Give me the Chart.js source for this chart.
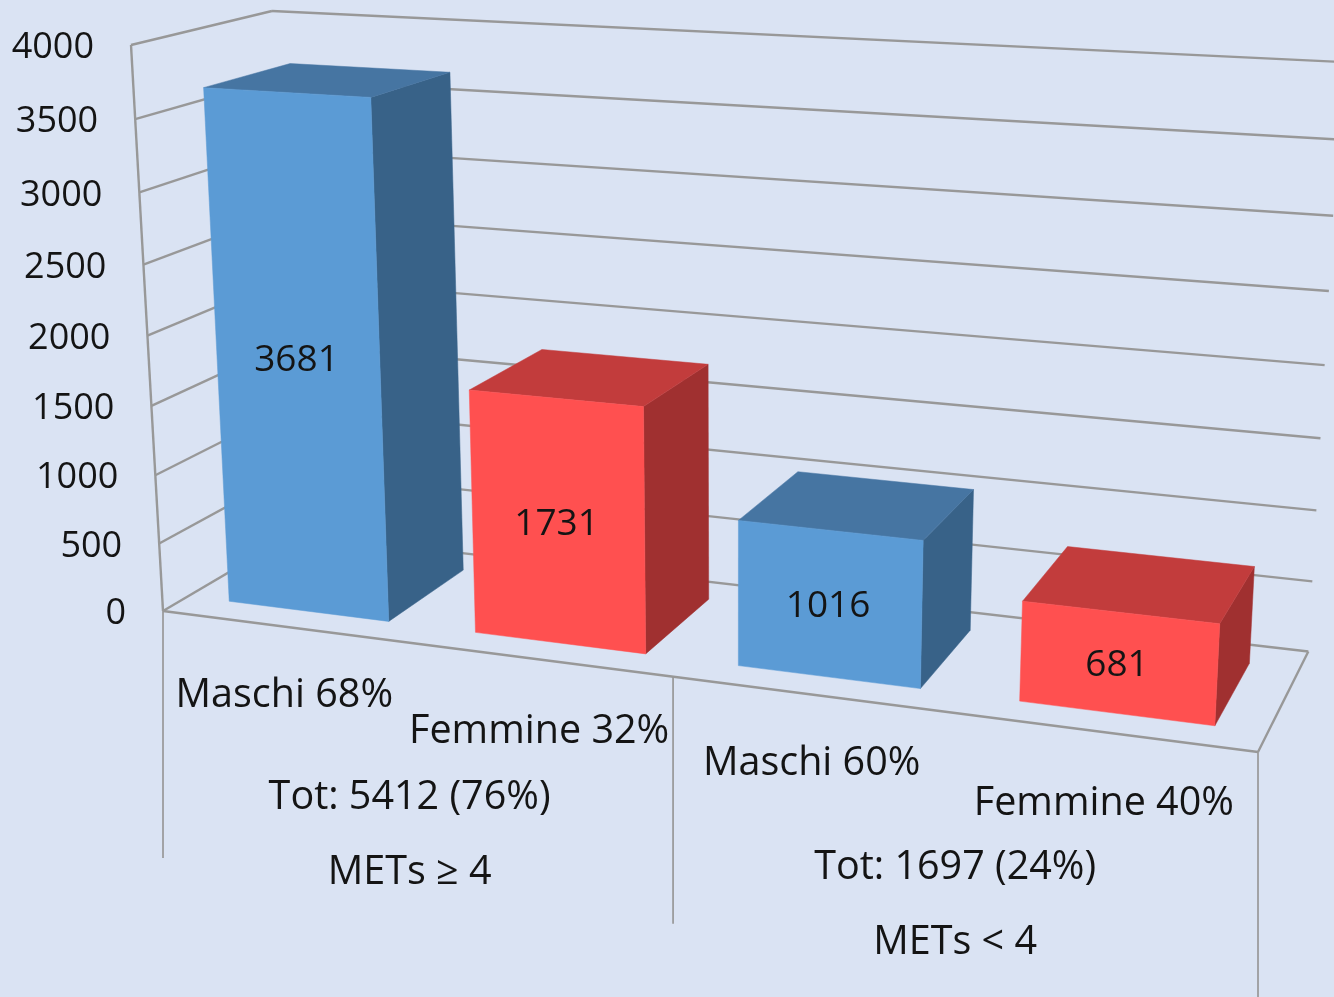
<!DOCTYPE html>
<html><head><meta charset="utf-8">
<style>html,body{margin:0;padding:0;background:#DAE3F3;overflow:hidden}canvas{display:block}</style>
<script src="https://cdn.jsdelivr.net/npm/chart.js@4"></script>
</head><body><canvas id="c" width="1334" height="997"></canvas>
<script>
// ---- data ----
const categories = ['Maschi 68%', 'Femmine 32%', 'Maschi 60%', 'Femmine 40%'];
const values = [3681, 1731, 1016, 681];
const groupLabels = ['Tot: 5412 (76%)', 'Tot: 1697 (24%)'];
const metLabels = ['METs \u2265 4', 'METs < 4'];
const yMax = 4000;
const yStep = 500;
const blue = {front:'#5B9BD5', top:'#4675A2', side:'#386288'};
const red = {front:'#FF5050', top:'#C23C3C', side:'#A03030'};
const barColors = [blue, red, blue, red];

// ---- perspective of the 3D box (screen anchors) ----
const A = [163,611], B = [1258,752], C = [131,45];
const hu = 0.872, hv = 0.947, hw = 1.0865;
const backTopLeft = [272,11];
const D = [0,1].map(i => (backTopLeft[i]*(hv+hw-1) - hv*C[i] + A[i]) / hw);
function project(u,v,w){
  const h = 1 + u*(hu-1) + v*(hv-1) + w*(hw-1);
  const p = i => (A[i] + u*(hu*B[i]-A[i]) + v*(hv*C[i]-A[i]) + w*(hw*D[i]-A[i])) / h;
  return [p(0), p(1)];
}
const depthFront = 0.18, depthBack = 0.81;
const FONT = '"Open Sans"';
const TEXT = '#141414', LINE = '#989898';

function poly(ctx, pts, fill){
  ctx.beginPath();
  pts.forEach((p,i)=> i ? ctx.lineTo(p[0],p[1]) : ctx.moveTo(p[0],p[1]));
  ctx.closePath(); ctx.fillStyle = fill; ctx.fill();
  ctx.strokeStyle = fill; ctx.lineWidth = .5; ctx.stroke();
}
function seg(ctx,a,b,lw){
  ctx.beginPath(); ctx.moveTo(a[0],a[1]); ctx.lineTo(b[0],b[1]);
  ctx.lineWidth = lw||2.4; ctx.strokeStyle = LINE; ctx.stroke();
}
function text(ctx,s,x,y,size,align){
  ctx.font = size+'px '+FONT; ctx.fillStyle = TEXT;
  ctx.textAlign = align||'center'; ctx.textBaseline = 'middle';
  ctx.fillText(s,x,y);
}

const box3d = {
  id:'box3d',
  beforeDatasetsDraw(chart){
    const ctx = chart.ctx, ys = chart.scales.y;
    const vOf = val => (ys.bottom - ys.getPixelForValue(val)) / (ys.bottom - ys.top);
    ctx.save();
    // walls and gridlines
    ys.ticks.forEach(t=>{
      const v = vOf(t.value);
      seg(ctx, project(0,v,0), project(0,v,1));
      seg(ctx, project(0,v,1), project(1,v,1));
      const p = project(0,v,0);
      text(ctx, String(t.value), p[0]-37, p[1]+3, 36, 'right');
    });
    seg(ctx, project(0,0,0), project(0,1,0));
    // floor
    seg(ctx, project(0,0,0), project(1,0,0));
    seg(ctx, project(1,0,0), project(1,0,1));
    // category separators dropping below the floor
    [0,0.5,1].forEach(u=>{
      const p = project(u,0,0);
      seg(ctx, p, [p[0], p[1]+247], 1.7);
    });
    ctx.restore();
  },
  beforeDatasetDraw(){ return false; },
  afterDatasetsDraw(chart){
    const ctx = chart.ctx, xs = chart.scales.x, ys = chart.scales.y;
    const meta = chart.getDatasetMeta(0);
    const W = xs.right - xs.left, H = ys.bottom - ys.top;
    ctx.save();
    meta.data.forEach((el,i)=>{
      const u0 = (el.x - el.width/2 - xs.left)/W, u1 = (el.x + el.width/2 - xs.left)/W;
      const v = (ys.bottom - el.y)/H;
      const w0 = depthFront, w1 = depthBack, c = barColors[i];
      poly(ctx,[project(u1,0,w0),project(u1,0,w1),project(u1,v,w1),project(u1,v,w0)],c.side);
      poly(ctx,[project(u0,v,w0),project(u1,v,w0),project(u1,v,w1),project(u0,v,w1)],c.top);
      poly(ctx,[project(u0,0,w0),project(u1,0,w0),project(u1,v,w0),project(u0,v,w0)],c.front);
      const m = project((u0+u1)/2, v/2, w0);
      text(ctx, String(values[i]), m[0]-1, m[1]+2, 37);
    });
    // category labels
    const offs = [68,71,68,71];
    categories.forEach((s,i)=>{
      const p = project((i+0.5)/categories.length,0,0);
      text(ctx, s, p[0], p[1]+offs[i]+1, 39.5);
    });
    groupLabels.forEach((s,i)=>{
      const p = project((i+0.5)/groupLabels.length,0,0);
      text(ctx, s, p[0], p[1]+155, 39.5);
      text(ctx, metLabels[i], p[0], p[1]+230, 39.5);
    });
    ctx.restore();
  }
};

new Chart(document.getElementById('c'),{
  type:'bar',
  data:{labels:categories, datasets:[{data:values, backgroundColor:barColors.map(c=>c.front), barPercentage:0.655, categoryPercentage:1}]},
  options:{
    responsive:false, animation:false,
    layout:{padding:0},
    plugins:{legend:{display:false}, tooltip:{enabled:false}},
    scales:{
      x:{display:false},
      y:{display:false, min:0, max:yMax, ticks:{stepSize:yStep}}
    }
  },
  plugins:[box3d]
});
</script></body></html>
